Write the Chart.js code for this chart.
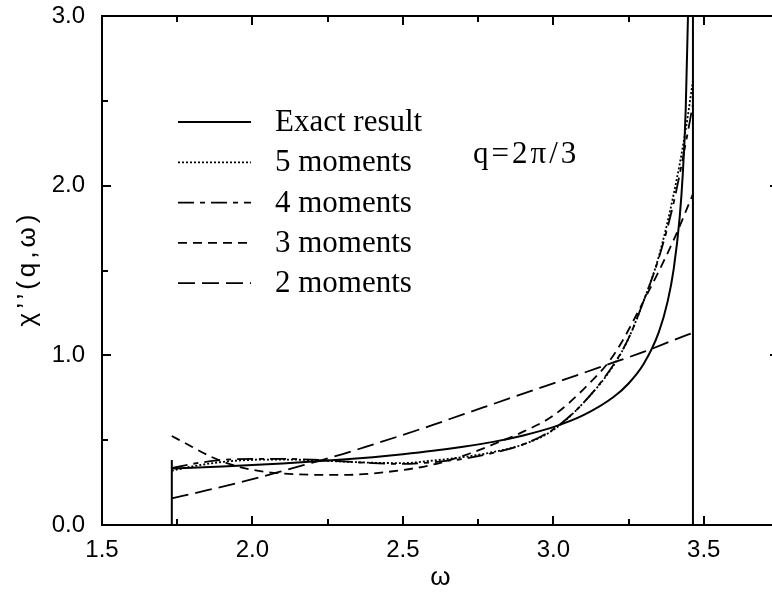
<!DOCTYPE html>
<html>
<head>
<meta charset="utf-8">
<script src="https://cdn.jsdelivr.net/npm/chart.js@4"></script>
<style>
  html, body { margin: 0; padding: 0; background: #fff; overflow: hidden; }
  #wrap { width: 790px; height: 593px; }
</style>
</head>
<body>
<div id="wrap"><canvas id="c" width="790" height="593"></canvas></div>
<script>
// ---- tick labels ----
const xTicks = [1.5, 2.0, 2.5, 3.0, 3.5];
const xMinorTicks = [1.75, 2.25, 2.75, 3.25];
const yTicks = [0.0, 1.0, 2.0, 3.0];
const yMinorTicks = [0.5, 1.5, 2.5];

// ---- series names ----
const seriesNames = ["Exact result", "5 moments", "4 moments", "3 moments", "2 moments"];
const annotationText = "q=2\u03c0/3";
const xTitle = "\u03c9";
const yTitle = "\u03c7\u2019\u2019(q,\u03c9)";

// ---- exact result ----
const omegaExact = [1.732, 1.8, 1.9, 2.0, 2.1, 2.2, 2.3, 2.4, 2.5, 2.6, 2.7, 2.8, 2.9, 3.0, 3.1, 3.2, 3.25, 3.3, 3.35, 3.38, 3.40, 3.42, 3.43, 3.44, 3.45];
const exactResult = [0.333, 0.338, 0.345, 0.354, 0.363, 0.374, 0.386, 0.400, 0.417, 0.437, 0.461, 0.490, 0.528, 0.577, 0.647, 0.754, 0.834, 0.949, 1.134, 1.318, 1.508, 1.815, 2.062, 2.451, 3.2];

// ---- 5 and 4 moments ----
const omegaM54 = [1.732, 1.8, 1.9, 2.0, 2.1, 2.2, 2.3, 2.4, 2.5, 2.6, 2.7, 2.8, 2.9, 3.0, 3.1, 3.2, 3.25, 3.3, 3.35, 3.4, 3.44, 3.464];
const moments5 = [0.32, 0.345, 0.372, 0.384, 0.386, 0.382, 0.374, 0.367, 0.365, 0.38, 0.40, 0.43, 0.475, 0.56, 0.72, 0.94, 1.10, 1.32, 1.58, 1.95, 2.33, 2.62];
const moments4 = [0.335, 0.36, 0.383, 0.39, 0.39, 0.385, 0.375, 0.365, 0.36, 0.37, 0.39, 0.425, 0.475, 0.565, 0.72, 0.945, 1.10, 1.32, 1.57, 1.90, 2.25, 2.48];

// ---- 3 moments ----
const omegaM3 = [1.732, 1.8, 1.863, 1.95, 2.04, 2.15, 2.3, 2.45, 2.6, 2.72, 2.8, 2.9, 3.0, 3.1, 3.2, 3.3, 3.4, 3.464];
const moments3 = [0.525, 0.46, 0.402, 0.345, 0.314, 0.299, 0.295, 0.313, 0.356, 0.42, 0.475, 0.55, 0.645, 0.80, 1.00, 1.32, 1.68, 1.95];

// ---- 2 moments ----
const omegaM2 = [1.732, 1.85, 2.0, 2.1, 2.2, 2.3, 2.4, 2.5, 2.6, 2.7, 2.8, 2.9, 3.0, 3.1, 3.2, 3.3, 3.4, 3.464];
const moments2 = [0.157, 0.205, 0.27, 0.318, 0.368, 0.418, 0.474, 0.531, 0.59, 0.652, 0.713, 0.774, 0.835, 0.896, 0.958, 1.02, 1.09, 1.133];

// ---- continuum edges (vertical lines) ----
const edgeOmega = [1.732, 3.464];
const edgeTop = [0.383, 3.0];

const pts = (xs, ys) => xs.map((x, i) => ({ x: x, y: ys[i] }));

const styles = [
  { dash: [], width: 2 },
  { dash: [2, 2], width: 1.8 },
  { dash: [16, 6, 5, 6], width: 1.8 },
  { dash: [9, 6], width: 1.8 },
  { dash: [17, 7], width: 1.8 }
];
const seriesData = [
  pts(omegaExact, exactResult),
  pts(omegaM54, moments5),
  pts(omegaM54, moments4),
  pts(omegaM3, moments3),
  pts(omegaM2, moments2)
];

const datasets = seriesData.map((d, i) => ({
  label: seriesNames[i],
  data: d,
  showLine: true,
  borderColor: '#000',
  borderWidth: styles[i].width,
  borderDash: styles[i].dash,
  pointRadius: 0,
  cubicInterpolationMode: 'monotone',
  fill: false
}));
edgeOmega.forEach((xv, i) => {
  datasets.push({
    label: 'edge' + i,
    data: [{ x: xv, y: 0 }, { x: xv, y: edgeTop[i] }],
    showLine: true,
    borderColor: '#000',
    borderWidth: 2,
    pointRadius: 0,
    fill: false
  });
});

const framePlugin = {
  id: 'frame',
  afterDatasetsDraw(chart) {
    const { ctx, chartArea: a, scales: { x, y } } = chart;
    ctx.save();
    ctx.strokeStyle = '#000';
    ctx.setLineDash([]);
    ctx.lineWidth = 2;
    ctx.strokeRect(a.left, a.top, a.right - a.left, a.bottom - a.top);
    ctx.beginPath();
    const tx = (list, len) => list.forEach(v => {
      const p = Math.round(x.getPixelForValue(v));
      ctx.moveTo(p, a.bottom); ctx.lineTo(p, a.bottom - len);
      ctx.moveTo(p, a.top); ctx.lineTo(p, a.top + len);
    });
    const ty = (list, len) => list.forEach(v => {
      const p = Math.round(y.getPixelForValue(v));
      ctx.moveTo(a.left, p); ctx.lineTo(a.left + len, p);
      ctx.moveTo(a.right, p); ctx.lineTo(a.right - len, p);
    });
    tx(xTicks, 9); tx(xMinorTicks, 6);
    ty(yTicks, 9); ty(yMinorTicks, 6);
    ctx.stroke();

    // legend
    const lx0 = 178, lx1 = 251, tx0 = 275, ly0 = 122, step = 40.3;
    ctx.font = '31px "Liberation Serif", "Times New Roman", serif';
    ctx.fillStyle = '#000';
    ctx.textBaseline = 'middle';
    ctx.textAlign = 'left';
    seriesNames.forEach((name, i) => {
      const yy = ly0 + i * step;
      ctx.beginPath();
      ctx.lineWidth = styles[i].width;
      ctx.setLineDash(styles[i].dash);
      ctx.moveTo(lx0, yy); ctx.lineTo(lx1, yy);
      ctx.stroke();
      ctx.fillText(name, tx0, yy + 1);
    });
    ctx.setLineDash([]);
    ctx.letterSpacing = '3px';
    ctx.fillText(annotationText, 473, 155);
    ctx.restore();

    // y axis title
    ctx.save();
    ctx.fillStyle = '#000';
    ctx.font = '26px "Liberation Sans", Arial, sans-serif';
    ctx.letterSpacing = '4px';
    ctx.textAlign = 'center';
    ctx.textBaseline = 'middle';
    ctx.translate(28, (a.top + a.bottom) / 2);
    ctx.rotate(-Math.PI / 2);
    ctx.fillText(yTitle, 2, 0);
    ctx.restore();
  }
};

new Chart(document.getElementById('c'), {
  type: 'scatter',
  data: { datasets: datasets },
  options: {
    responsive: false,
    animation: false,
    devicePixelRatio: 1,
    layout: { padding: { left: 0, right: 11, top: 16, bottom: 0 } },
    plugins: { legend: { display: false }, tooltip: { enabled: false } },
    scales: {
      x: {
        type: 'linear', min: 1.5, max: 3.75,
        afterBuildTicks: s => { s.ticks = xTicks.map(v => ({ value: v })); },
        afterFit: s => { s.height = 68; },
        grid: { display: false, drawTicks: false },
        border: { display: false },
        ticks: {
          padding: 11, color: '#000',
          font: { family: '"Liberation Sans", Arial, sans-serif', size: 24 },
          callback: v => Number(v).toFixed(1), maxRotation: 0
        },
        title: {
          display: true, text: xTitle, color: '#000',
          font: { family: '"Liberation Sans", Arial, sans-serif', size: 26 },
          padding: { top: 0, bottom: 0 }
        }
      },
      y: {
        type: 'linear', min: 0, max: 3,
        afterBuildTicks: s => { s.ticks = yTicks.map(v => ({ value: v })); },
        afterFit: s => { s.width = 102; s.paddingTop = 0; s.paddingBottom = 0; },
        grid: { display: false, drawTicks: false },
        border: { display: false },
        ticks: {
          padding: 17, color: '#000',
          font: { family: '"Liberation Sans", Arial, sans-serif', size: 24 },
          callback: v => Number(v).toFixed(1)
        },
        title: { display: false }
      }
    }
  },
  plugins: [framePlugin]
});
</script>
</body>
</html>
